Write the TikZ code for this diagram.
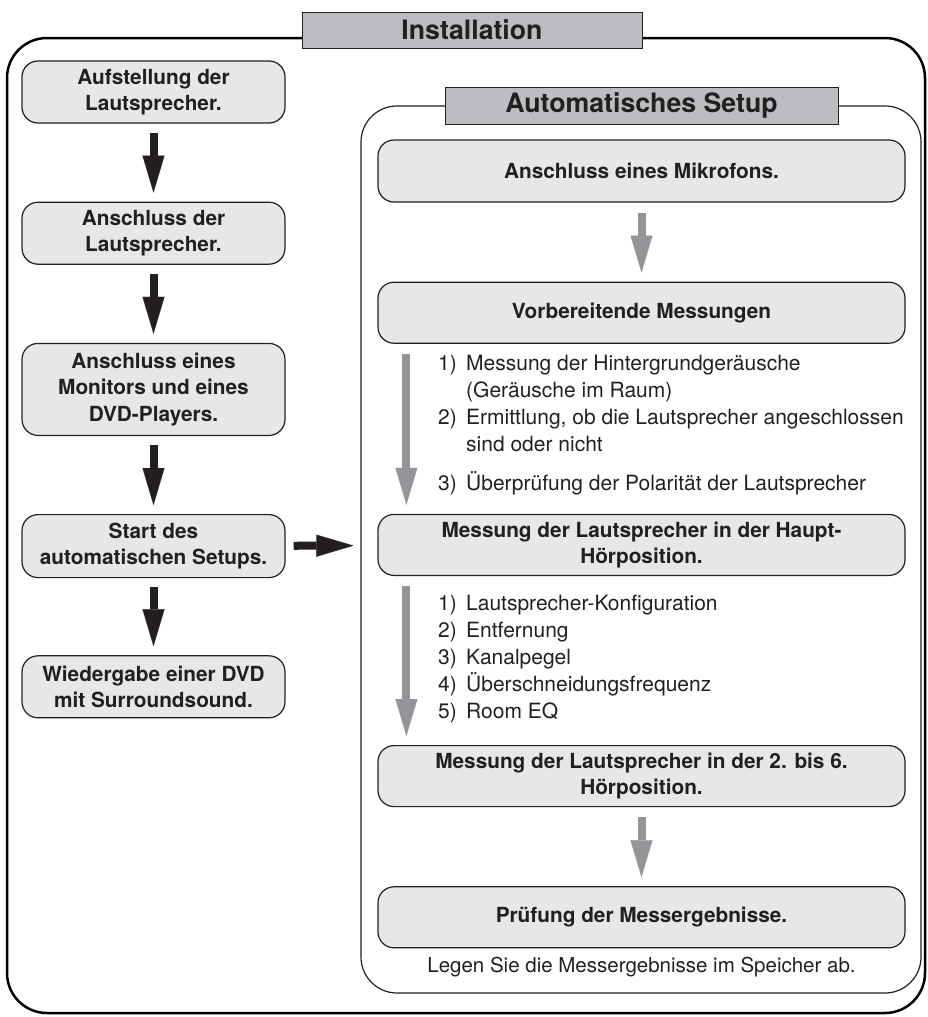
\documentclass[tikz,border=0pt]{standalone}
\usepackage{fontspec}
\setmainfont{TeX Gyre Heros}
\usetikzlibrary{arrows.meta,positioning}
\definecolor{tabgray}{HTML}{BCBDC0}
\definecolor{boxgray}{HTML}{E6E7E8}
\definecolor{arrowgray}{HTML}{939598}
\definecolor{ink}{HTML}{231F20}
\tikzset{
  stepbox/.style={draw=ink, line width=1.2pt, fill=boxgray, rounded corners=16pt,
    align=center, inner sep=0pt, text=ink,
    font=\fontsize{20.8}{26.5}\selectfont\bfseries},
  leftbox/.style={stepbox, minimum width=263pt, minimum height=62pt},
  rightbox/.style={stepbox, minimum width=527pt, minimum height=61pt},
  tabbox/.style={draw=ink, line width=1pt, fill=tabgray, inner sep=0pt, text=ink,
    font=\fontsize{26.7}{30}\selectfont\bfseries},
  fatarrow/.style={draw=ink, line width=8pt,
    -{Triangle[length=37pt,width=22pt,line width=0.1pt]},
    shorten <=9pt, shorten >=9pt},
  grayarrow/.style={fatarrow, draw=arrowgray},
  steplist/.style={anchor=north west, inner sep=0pt, text=ink,
    font=\fontsize{21}{27}\selectfont}
}
\begin{document}
\begin{tikzpicture}[x=1pt, y=-1pt, node distance=78pt]
    \useasboundingbox (0,0) rectangle (928,1017);
    % frames
    \draw[line width=2.5pt, rounded corners=40pt] (7,38) rectangle (925,1013);
    \draw[draw=ink, line width=1.2pt, rounded corners=36pt] (361,106) rectangle (921,993);
    \node[tabbox, minimum width=340pt, minimum height=36pt] (install) at (472,30) {Installation};
    \node[tabbox, minimum width=393pt, minimum height=37pt] (autosetup) at (641.5,105.5) {Automatisches Setup};

    % left column
    \node[leftbox] (aufstellung) at (153.5,92) {Aufstellung der\\Lautsprecher.};
    \node[leftbox, below=of aufstellung] (anschluss) {Anschluss der\\Lautsprecher.};
    \node[leftbox, minimum height=92pt, below=of anschluss] (monitor) {Anschluss eines\\Monitors und eines\\DVD-Players.};
    \node[leftbox, minimum height=63pt, below=of monitor] (start) {Start des\\automatischen Setups.};
    \node[leftbox, below=77pt of start] (dvd) {Wiedergabe einer DVD\\mit Surroundsound.};

    \draw[fatarrow] (aufstellung) -- (anschluss);
    \draw[fatarrow] (anschluss) -- (monitor);
    \draw[fatarrow] (monitor) -- (start);
    \draw[fatarrow] (start) -- (dvd);

    % right column
    \node[rightbox, minimum height=62pt] (mikrofon) at (641.5,171) {Anschluss eines Mikrofons.};
    \node[rightbox, below=79pt of mikrofon] (vorbereitung) {Vorbereitende Messungen};
    \node[rightbox, below=170pt of vorbereitung] (haupt) {Messung der Lautsprecher in der Haupt-\\Hörposition.};
    \node[rightbox, below=169pt of haupt] (weitere) {Messung der Lautsprecher in der 2. bis 6.\\Hörposition.};
    \node[rightbox, below=79pt of weitere] (pruefung) {Prüfung der Messergebnisse.};
    \node[text=ink, font=\fontsize{20.5}{24}\selectfont] (speichern) at (641.5,967) {Legen Sie die Messergebnisse im Speicher ab.};

    \node[steplist] (liste1) at (438,351.6) {%
      \begin{tabular}{@{}p{28pt}@{}l@{}}
        1) & Messung der Hintergrundgeräusche\\
           & (Geräusche im Raum)\\
        2) & Ermittlung, ob die Lautsprecher angeschlossen\\
           & sind oder nicht\\[12pt]
        3) & Überprüfung der Polarität der Lautsprecher
      \end{tabular}};
    \node[steplist] (liste2) at (438,591.6) {%
      \begin{tabular}{@{}p{28pt}@{}l@{}}
        1) & Lautsprecher-Konfiguration\\
        2) & Entfernung\\
        3) & Kanalpegel\\
        4) & Überschneidungsfrequenz\\
        5) & Room EQ
      \end{tabular}};

    \draw[grayarrow, shorten <=10pt] (mikrofon) -- (vorbereitung);
    \draw[grayarrow, shorten <=10pt] ([xshift=29pt]vorbereitung.south west) -- ([xshift=29pt]haupt.north west);
    \draw[grayarrow, shorten <=10pt] ([xshift=29pt]haupt.south west) -- ([xshift=29pt]weitere.north west);
    \draw[grayarrow, shorten <=10pt] (weitere) -- (pruefung);
    \draw[fatarrow, shorten <=8pt, shorten >=24pt] (start) -- (haupt);
\end{tikzpicture}
\end{document}
